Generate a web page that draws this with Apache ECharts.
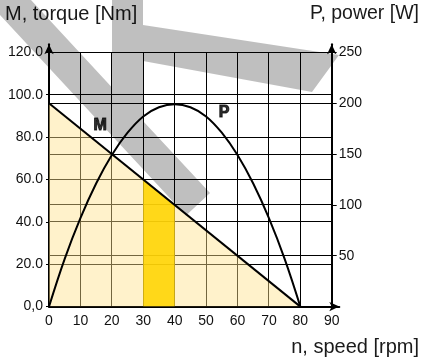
<!DOCTYPE html>
<html>
<head>
<meta charset="utf-8">
<script src="https://cdn.jsdelivr.net/npm/echarts@6/dist/echarts.min.js"></script>
<style>
  html, body { margin: 0; padding: 0; background: #fff; }
  #chart { width: 423px; height: 360px; }
</style>
</head>
<body>
<div id="chart"></div>
<script>
// Motor characteristic: torque M and output power P against speed n
const speedPoints = [0, 5, 10, 15, 20, 25, 30, 35, 40, 45, 50, 55, 60, 65, 70, 75, 80];
const powerValues = [0, 47, 87, 121, 149, 171, 187, 196, 199, 196, 187, 171, 149, 121, 87, 47, 0];

const torqueSpeed = [0, 80];
const torqueValues = [96, 0];

// highlighted operating band between 30 and 40 rpm
const bandSpeed = [30, 40];
const bandTorque = [60, 48];

const speedTicks = [0, 10, 20, 30, 40, 50, 60, 70, 80, 90];
const torqueTicks = [0, 20, 40, 60, 80, 100, 120];
const powerTicks = [50, 100, 150, 200, 250];

// curve tags placed in data units
const curveTags = [
  { text: 'M', at: [16.3, 85.5] },
  { text: 'P', at: [55.7, 91.4] }
];

const FONT = '"Liberation Sans", Arial, Helvetica, sans-serif';

const xEnd = speedTicks[speedTicks.length - 1];
const mTop = torqueTicks[torqueTicks.length - 1];

// grid line segments built from the tick lists: [x1, y1, x2, y2]
const gridLeft = [];
speedTicks.slice(1).forEach(v => gridLeft.push([v, 0, v, mTop]));
torqueTicks.slice(1).forEach(v => gridLeft.push([0, v, xEnd, v]));
const gridRight = powerTicks.map(v => [0, v, xEnd, v]);

function crisp(v) { return Math.round(v - 0.5) + 0.5; }
function drawGridLine(params, api) {
  const a = api.coord([api.value(0), api.value(1)]);
  const b = api.coord([api.value(2), api.value(3)]);
  const vertical = Math.abs(a[0] - b[0]) < 0.5;
  const shape = vertical
    ? { x1: crisp(a[0]), y1: a[1], x2: crisp(b[0]), y2: b[1] }
    : { x1: a[0], y1: crisp(a[1]), x2: b[0], y2: crisp(b[1]) };
  return { type: 'line', shape: shape, style: { stroke: '#000', lineWidth: 1 } };
}

// translucent grey stripes laid over the plot (pixel outline)
const stripePoints = [
  [-14, 0], [31, 0], [112, 87.4], [112, 0], [143, 0], [143, 25],
  [339, 55], [312, 92], [143, 61], [143, 120.9], [210, 193], [186, 215.4]
];

const axisArrow = { symbol: ['none', 'arrow'], symbolSize: [7, 10] };

const chart = echarts.init(document.getElementById('chart'), null, { renderer: 'canvas' });
chart.setOption({
  animation: false,
  backgroundColor: '#fff',
  grid: { left: 49, right: 83.7, top: 44.3, bottom: 53.4, containLabel: false },
  xAxis: {
    type: 'value', min: 0, max: 92.4,
    axisLine: Object.assign({ show: true, onZero: false, lineStyle: { color: '#000', width: 2 } }, axisArrow),
    axisTick: { show: false, customValues: speedTicks },
    axisLabel: { customValues: speedTicks, margin: 8, fontSize: 14, color: '#111', fontFamily: FONT },
    splitLine: { show: false }
  },
  yAxis: [
    {
      type: 'value', min: 0, max: 123.8, position: 'left',
      axisLine: Object.assign({ show: true, onZero: false, lineStyle: { color: '#000', width: 2 } }, axisArrow),
      axisTick: { show: true, length: 3, customValues: torqueTicks, lineStyle: { color: '#000', width: 1 } },
      axisLabel: {
        customValues: torqueTicks, margin: 6, fontSize: 14, color: '#111', fontFamily: FONT,
        formatter: v => (v === 0 ? '0,0' : v.toFixed(1))
      },
      splitLine: { show: false }
    },
    {
      type: 'value', min: 0, max: 257.9, position: 'right', offset: -7.6,
      axisLine: Object.assign({ show: true, onZero: false, lineStyle: { color: '#000', width: 2 } }, axisArrow),
      axisTick: { show: true, length: 5, customValues: powerTicks, lineStyle: { color: '#000', width: 1 } },
      axisLabel: { customValues: powerTicks, margin: 7, fontSize: 14, color: '#111', fontFamily: FONT },
      splitLine: { show: false }
    }
  ],
  series: [
    {
      type: 'custom', name: 'grid-torque', z: 1, silent: true, clip: false,
      xAxisIndex: 0, yAxisIndex: 0,
      encode: { x: [0, 2], y: [1, 3] },
      renderItem: drawGridLine, data: gridLeft
    },
    {
      type: 'custom', name: 'grid-power', z: 1, silent: true, clip: false,
      xAxisIndex: 0, yAxisIndex: 1,
      encode: { x: [0, 2], y: [1, 3] },
      renderItem: drawGridLine, data: gridRight
    },
    {
      type: 'line', name: 'torque-area', yAxisIndex: 0, symbol: 'none', silent: true,
      lineStyle: { width: 0 },
      areaStyle: { color: 'rgba(255,226,140,0.45)', opacity: 1 },
      data: torqueSpeed.map((n, i) => [n, torqueValues[i]])
    },
    {
      type: 'line', name: 'band', yAxisIndex: 0, symbol: 'none', silent: true,
      lineStyle: { width: 0 },
      areaStyle: { color: '#FFD400', opacity: 0.88 },
      data: bandSpeed.map((n, i) => [n, bandTorque[i]])
    },
    {
      type: 'line', name: 'M', yAxisIndex: 0, symbol: 'none', silent: true,
      lineStyle: { color: '#000', width: 2 },
      data: torqueSpeed.map((n, i) => [n, torqueValues[i]])
    },
    {
      type: 'line', name: 'P', yAxisIndex: 1, symbol: 'none', silent: true, smooth: 0.4,
      lineStyle: { color: '#000', width: 2 },
      data: speedPoints.map((n, i) => [n, powerValues[i]])
    },
    {
      type: 'scatter', name: 'tags', yAxisIndex: 0, symbolSize: 0, silent: true,
      label: {
        show: true, position: 'inside', formatter: p => p.data.name,
        fontSize: 16, fontWeight: 'bold', fontFamily: FONT, color: '#000',
        textBorderColor: '#000', textBorderWidth: 1
      },
      data: curveTags.map(t => ({ name: t.text, value: t.at }))
    }
  ],
  graphic: [
    {
      type: 'text', z: 90, silent: true,
      style: { x: 5, y: 14, text: 'M, torque [Nm]', font: '20px ' + FONT, fill: '#1a1a1a', align: 'left', verticalAlign: 'middle' }
    },
    {
      type: 'text', z: 90, silent: true,
      style: { x: 419, y: 14, text: 'P, power [W]', font: '19.5px ' + FONT, fill: '#1a1a1a', align: 'right', verticalAlign: 'middle' }
    },
    {
      type: 'text', z: 90, silent: true,
      style: { x: 419, y: 347, text: 'n, speed [rpm]', font: '20px ' + FONT, fill: '#1a1a1a', align: 'right', verticalAlign: 'middle' }
    },
    {
      type: 'polygon', z: 100, silent: true,
      shape: { points: stripePoints },
      style: { fill: 'rgba(0,0,0,0.25)' }
    }
  ]
});
</script>
</body>
</html>
